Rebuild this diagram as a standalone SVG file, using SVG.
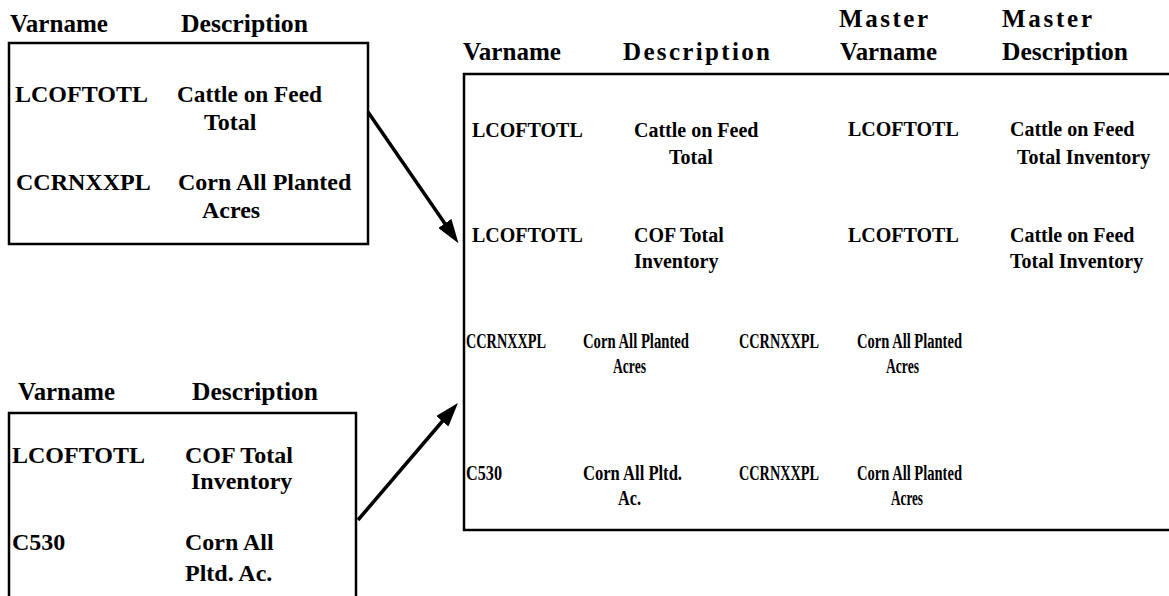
<svg xmlns="http://www.w3.org/2000/svg" width="1169" height="596" viewBox="0 0 1169 596">
<style>
text{font-family:"Liberation Serif","Times New Roman",serif;font-weight:bold;fill:#000}
.h{font-size:25px}
.t{font-size:24px}
.s{font-size:20px}
.box{fill:none;stroke:#000;stroke-width:2.5}
.conn{stroke:#000;stroke-width:3.5;fill:none}
</style>
<defs>
<marker id="ah" markerUnits="userSpaceOnUse" markerWidth="24" markerHeight="16" viewBox="0 0 24 16" refX="1" refY="8" orient="auto">
<path d="M0,0 L24,8 L0,16 z" fill="#000"/>
</marker>
</defs>
<rect width="1169" height="596" fill="#fff"/>

<g id="source1">
<rect class="box" x="9" y="43" width="359" height="201"/>
<text class="h" x="10" y="32" textLength="98" lengthAdjust="spacingAndGlyphs">Varname</text>
<text class="h" x="181" y="32" textLength="127" lengthAdjust="spacingAndGlyphs">Description</text>
<text class="t" x="15" y="102">LCOFTOTL</text>
<text class="t" x="177" y="102" textLength="145" lengthAdjust="spacingAndGlyphs">Cattle on Feed</text>
<text class="t" x="204" y="130">Total</text>
<text class="t" x="16" y="190">CCRNXXPL</text>
<text class="t" x="178" y="190">Corn All Planted</text>
<text class="t" x="202" y="218">Acres</text>
</g>

<g id="source2">
<rect class="box" x="9" y="413" width="347" height="200"/>
<text class="h" x="18" y="400" textLength="97" lengthAdjust="spacingAndGlyphs">Varname</text>
<text class="h" x="192" y="400" textLength="126" lengthAdjust="spacingAndGlyphs">Description</text>
<text class="t" x="12" y="463">LCOFTOTL</text>
<text class="t" x="185" y="463">COF Total</text>
<text class="t" x="191" y="489">Inventory</text>
<text class="t" x="12" y="550">C530</text>
<text class="t" x="185" y="550">Corn All</text>
<text class="t" x="185" y="581">Pltd. Ac.</text>
</g>

<g id="master">
<rect class="box" x="464" y="74" width="800" height="456"/>
<text class="h" x="463" y="60" textLength="98" lengthAdjust="spacingAndGlyphs">Varname</text>
<text class="h" x="623" y="60" textLength="147" lengthAdjust="spacing">Description</text>
<text class="h" x="839" y="27" textLength="89" lengthAdjust="spacing">Master</text>
<text class="h" x="840" y="60" textLength="97" lengthAdjust="spacingAndGlyphs">Varname</text>
<text class="h" x="1002" y="27" textLength="90" lengthAdjust="spacing">Master</text>
<text class="h" x="1002" y="60" textLength="126" lengthAdjust="spacingAndGlyphs">Description</text>

<text class="s" x="472" y="137">LCOFTOTL</text>
<text class="s" x="634" y="137">Cattle on Feed</text>
<text class="s" x="669" y="164">Total</text>
<text class="s" x="848" y="136">LCOFTOTL</text>
<text class="s" x="1010" y="136">Cattle on Feed</text>
<text class="s" x="1017" y="164">Total Inventory</text>

<text class="s" x="472" y="242">LCOFTOTL</text>
<text class="s" x="634" y="242">COF Total</text>
<text class="s" x="634" y="268">Inventory</text>
<text class="s" x="848" y="242">LCOFTOTL</text>
<text class="s" x="1010" y="242">Cattle on Feed</text>
<text class="s" x="1010" y="268">Total Inventory</text>

<text class="s" x="466" y="348" textLength="80" lengthAdjust="spacingAndGlyphs">CCRNXXPL</text>
<text class="s" x="583" y="348" textLength="106" lengthAdjust="spacingAndGlyphs">Corn All Planted</text>
<text class="s" x="613" y="373" textLength="33" lengthAdjust="spacingAndGlyphs">Acres</text>
<text class="s" x="739" y="348" textLength="80" lengthAdjust="spacingAndGlyphs">CCRNXXPL</text>
<text class="s" x="857" y="348" textLength="105" lengthAdjust="spacingAndGlyphs">Corn All Planted</text>
<text class="s" x="886" y="373" textLength="33" lengthAdjust="spacingAndGlyphs">Acres</text>

<text class="s" x="466" y="480" textLength="36" lengthAdjust="spacingAndGlyphs">C530</text>
<text class="s" x="583" y="480" textLength="99" lengthAdjust="spacingAndGlyphs">Corn All Pltd.</text>
<text class="s" x="618" y="505" textLength="23" lengthAdjust="spacingAndGlyphs">Ac.</text>
<text class="s" x="739" y="480" textLength="80" lengthAdjust="spacingAndGlyphs">CCRNXXPL</text>
<text class="s" x="857" y="480" textLength="105" lengthAdjust="spacingAndGlyphs">Corn All Planted</text>
<text class="s" x="891" y="505" textLength="32" lengthAdjust="spacingAndGlyphs">Acres</text>
</g>

<g id="connectors">
<line class="conn" x1="368" y1="112" x2="445.4" y2="224.2" marker-end="url(#ah)"/>
<line class="conn" x1="358" y1="520" x2="443" y2="420.5" marker-end="url(#ah)"/>
</g>
</svg>
